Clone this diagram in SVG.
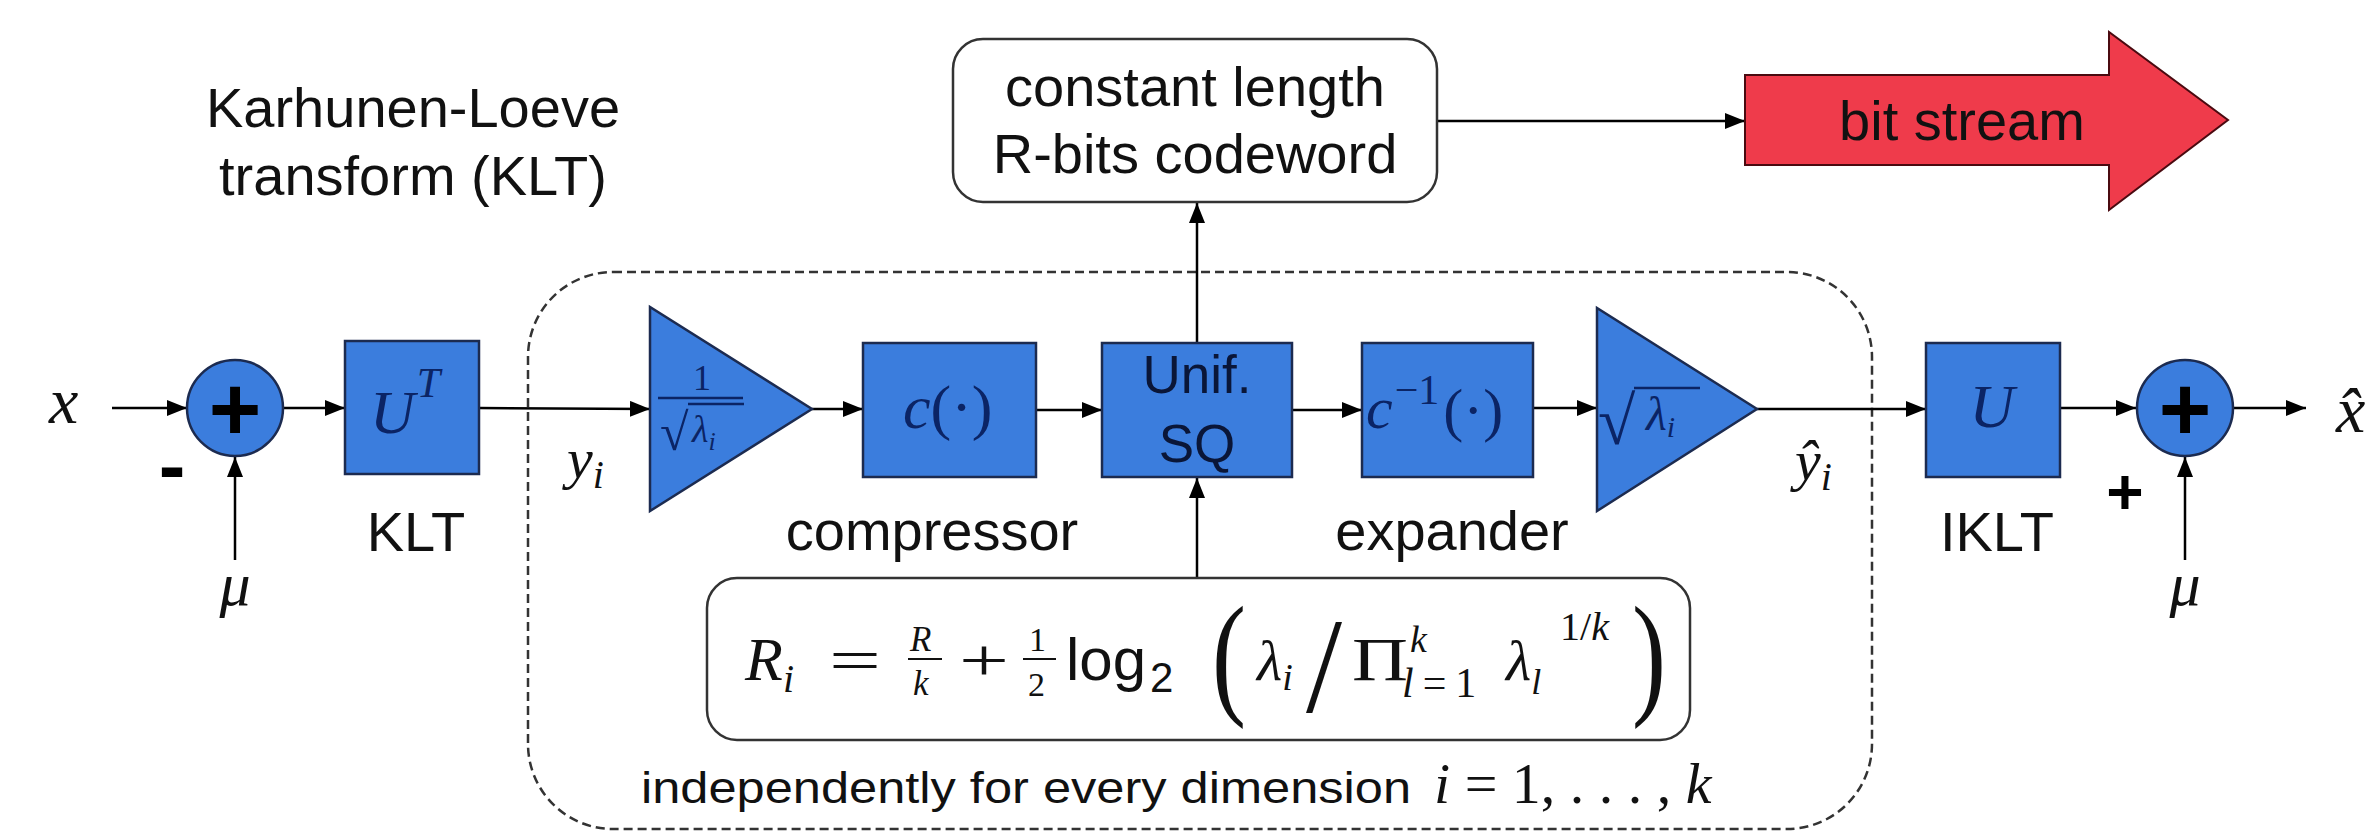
<svg xmlns="http://www.w3.org/2000/svg" width="2373" height="833" viewBox="0 0 2373 833">
<defs>
<marker id="ah" markerUnits="userSpaceOnUse" markerWidth="22" markerHeight="18" refX="20" refY="8" orient="auto"><path d="M0,0 L20,8 L0,16 z" fill="#000"/></marker>
<style>
.blk{fill:#3b7ddd;stroke:#1c2b50;stroke-width:2.5}
.con{stroke:#000;stroke-width:2.5;fill:none;marker-end:url(#ah)}
.lbl{font-family:"Liberation Sans",Arial,sans-serif;font-size:56px;fill:#111;text-anchor:middle}
.mi{font-family:"Liberation Serif","DejaVu Serif",serif;font-style:italic;fill:#111}
.mu{font-family:"Liberation Serif","DejaVu Serif",serif;fill:#111}
.nv{fill:#0b2465}
.sans{font-family:"Liberation Sans",Arial,sans-serif;fill:#111}
.rbox{fill:#fff;stroke:#333;stroke-width:2.5}
</style>
</defs>
<rect width="2373" height="833" fill="#fff"/>

<g id="klt-title">
<text class="lbl" x="413" y="127">Karhunen-Loeve</text>
<text class="lbl" x="413" y="195">transform (KLT)</text>
</g>

<g id="region">
<rect x="528" y="272" width="1344" height="557" rx="85" ry="85" fill="none" stroke="#333" stroke-width="2.5" stroke-dasharray="9,5"/>
</g>

<g id="connectors">
<line class="con" x1="112" y1="408" x2="187" y2="408"/>
<line class="con" x1="235" y1="560" x2="235" y2="457"/>
<line class="con" x1="283" y1="408" x2="345" y2="408"/>
<line class="con" x1="479" y1="408" x2="650" y2="409"/>
<line class="con" x1="812" y1="409" x2="863" y2="409"/>
<line class="con" x1="1036" y1="410" x2="1102" y2="410"/>
<line class="con" x1="1292" y1="410" x2="1362" y2="410"/>
<line class="con" x1="1533" y1="408" x2="1597" y2="408"/>
<line class="con" x1="1757" y1="409" x2="1926" y2="409"/>
<line class="con" x1="2060" y1="408" x2="2136" y2="408"/>
<line class="con" x1="2185" y1="560" x2="2185" y2="457"/>
<line class="con" x1="2233" y1="408" x2="2306" y2="408"/>
<line class="con" x1="1197" y1="343" x2="1197" y2="203"/>
<line class="con" x1="1197" y1="578" x2="1197" y2="478"/>
<line class="con" x1="1437" y1="121" x2="1745" y2="121"/>
</g>

<g id="in-x"><text class="mi" x="49" y="423" font-size="66">x</text></g>

<g id="sum1">
<circle class="blk" cx="235" cy="408" r="48"/>
<text x="235" y="440" font-family="Liberation Sans,Arial,sans-serif" font-weight="bold" font-size="90" text-anchor="middle" fill="#000">+</text>
<text x="172" y="493" font-family="Liberation Sans,Arial,sans-serif" font-weight="bold" font-size="80" text-anchor="middle" fill="#000">-</text>
</g>
<g id="mu1"><text class="mi" x="235" y="605" font-size="62" text-anchor="middle">μ</text></g>

<g id="klt">
<rect class="blk" x="345" y="341" width="134" height="133"/>
<text class="mi nv" x="370" y="433" font-size="62">U<tspan font-size="42" dx="2" dy="-36">T</tspan></text>
<text class="lbl" x="416" y="551">KLT</text>
</g>

<g id="yi"><text class="mi" x="567" y="478" font-size="58">y<tspan font-size="40" dy="10">i</tspan></text></g>

<g id="gain1">
<polygon class="blk" points="650,307 650,511 812,409"/>
<text class="mu nv" x="702" y="390" font-size="36" text-anchor="middle">1</text>
<line x1="658" y1="398" x2="743" y2="398" stroke="#0b2465" stroke-width="2.5"/>
<text class="mu nv" x="660" y="450" font-size="52">√</text>
<line x1="688" y1="404" x2="744" y2="404" stroke="#0b2465" stroke-width="2.5"/>
<text class="mi nv" x="692" y="442" font-size="38">λ<tspan font-size="26" dy="8">i</tspan></text>
</g>

<g id="compressor">
<rect class="blk" x="863" y="343" width="173" height="134"/>
<text class="mi nv" x="903" y="428" font-size="62">c<tspan font-style="normal">(·)</tspan></text>
<text class="lbl" x="932" y="550">compressor</text>
</g>

<g id="quantizer">
<rect class="blk" x="1102" y="343" width="190" height="134"/>
<text x="1197" y="393" font-family="Liberation Sans,Arial,sans-serif" font-size="53" text-anchor="middle" fill="#0a1638">Unif.</text>
<text x="1197" y="462" font-family="Liberation Sans,Arial,sans-serif" font-size="53" text-anchor="middle" fill="#0a1638">SQ</text>
</g>

<g id="expander">
<rect class="blk" x="1362" y="343" width="171" height="134"/>
<text class="mi nv" x="1366" y="428" font-size="60">c<tspan font-style="normal" font-size="42" dx="2" dy="-24">−1</tspan><tspan font-style="normal" font-size="60" dx="4" dy="26">(·)</tspan></text>
<text class="lbl" x="1452" y="550">expander</text>
</g>

<g id="gain2">
<polygon class="blk" points="1597,308 1597,511 1757,409"/>
<text class="mu nv" x="1598" y="444" font-size="68">√</text>
<line x1="1634" y1="388" x2="1700" y2="388" stroke="#0b2465" stroke-width="2.5"/>
<text class="mi nv" x="1646" y="430" font-size="48">λ<tspan font-size="30" dy="7">i</tspan></text>
</g>

<g id="yhat"><text class="mi" x="1795" y="480" font-size="58">ŷ<tspan font-size="40" dy="10">i</tspan></text></g>

<g id="iklt">
<rect class="blk" x="1926" y="343" width="134" height="134"/>
<text class="mi nv" x="1992" y="427" font-size="62" text-anchor="middle">U</text>
<text class="lbl" x="1997" y="551">IKLT</text>
</g>

<g id="sum2">
<circle class="blk" cx="2185" cy="408" r="48"/>
<text x="2185" y="440" font-family="Liberation Sans,Arial,sans-serif" font-weight="bold" font-size="90" text-anchor="middle" fill="#000">+</text>
<text x="2125" y="514" font-family="Liberation Sans,Arial,sans-serif" font-weight="bold" font-size="64" text-anchor="middle" fill="#000">+</text>
</g>
<g id="mu2"><text class="mi" x="2185" y="605" font-size="62" text-anchor="middle">μ</text></g>

<g id="out-xhat"><text class="mi" x="2336" y="432" font-size="66">x̂</text></g>

<g id="codeword">
<rect class="rbox" x="953" y="39" width="484" height="163" rx="30" ry="30"/>
<text class="lbl" x="1195" y="106">constant length</text>
<text class="lbl" x="1195" y="173">R-bits codeword</text>
</g>

<g id="bitstream">
<polygon points="1745,75 2109,75 2109,32 2228,120 2109,210 2109,165 1745,165" fill="#ef3b4b" stroke="#4a0a10" stroke-width="2"/>
<text class="lbl" x="1962" y="140">bit stream</text>
</g>

<g id="rate-formula">
<rect class="rbox" x="707" y="578" width="983" height="162" rx="30" ry="30"/>
<text class="mi" x="745" y="680" font-size="62">R<tspan font-size="40" dy="12">i</tspan></text>
<text class="mu" x="829" y="680" font-size="60" textLength="52" lengthAdjust="spacingAndGlyphs">=</text>
<text class="mi" x="910" y="651" font-size="35">R</text>
<line x1="908" y1="659" x2="942" y2="659" stroke="#111" stroke-width="2"/>
<text class="mi" x="913" y="695" font-size="35">k</text>
<text class="mu" x="959" y="680" font-size="60" textLength="50" lengthAdjust="spacingAndGlyphs">+</text>
<text class="mu" x="1029" y="651" font-size="34">1</text>
<line x1="1023" y1="659" x2="1056" y2="659" stroke="#111" stroke-width="2"/>
<text class="mu" x="1028" y="696" font-size="34">2</text>
<text class="sans" x="1066" y="680" font-size="60">log</text>
<text class="sans" x="1150" y="692" font-size="42">2</text>
<text class="mu" x="1212" y="700" font-size="135" textLength="34" lengthAdjust="spacingAndGlyphs">(</text>
<text class="mi" x="1257" y="680" font-size="58">λ<tspan font-size="38" dy="10">i</tspan></text>
<text class="mu" x="1306" y="712" font-size="135" textLength="36" lengthAdjust="spacingAndGlyphs">/</text>
<text class="mu" x="1352" y="680" font-size="62" textLength="56" lengthAdjust="spacingAndGlyphs">Π</text>
<text class="mi" x="1410" y="652" font-size="38">k</text>
<text class="mi" x="1402" y="697" font-size="42" letter-spacing="9">l<tspan font-style="normal">=1</tspan></text>
<text class="mi" x="1506" y="680" font-size="58">λ<tspan font-size="36" dy="14">l</tspan></text>
<text class="mu" x="1560" y="640" font-size="40">1/<tspan font-style="italic">k</tspan></text>
<text class="mu" x="1632" y="700" font-size="135" textLength="34" lengthAdjust="spacingAndGlyphs">)</text>
</g>

<g id="dimension-note">
<text class="sans" x="641" y="803" font-size="44" textLength="770" lengthAdjust="spacingAndGlyphs">independently for every dimension</text>
<text class="mi" x="1434" y="803" font-size="58">i<tspan font-style="normal"> = 1, . . . , </tspan>k</text>
</g>
</svg>
